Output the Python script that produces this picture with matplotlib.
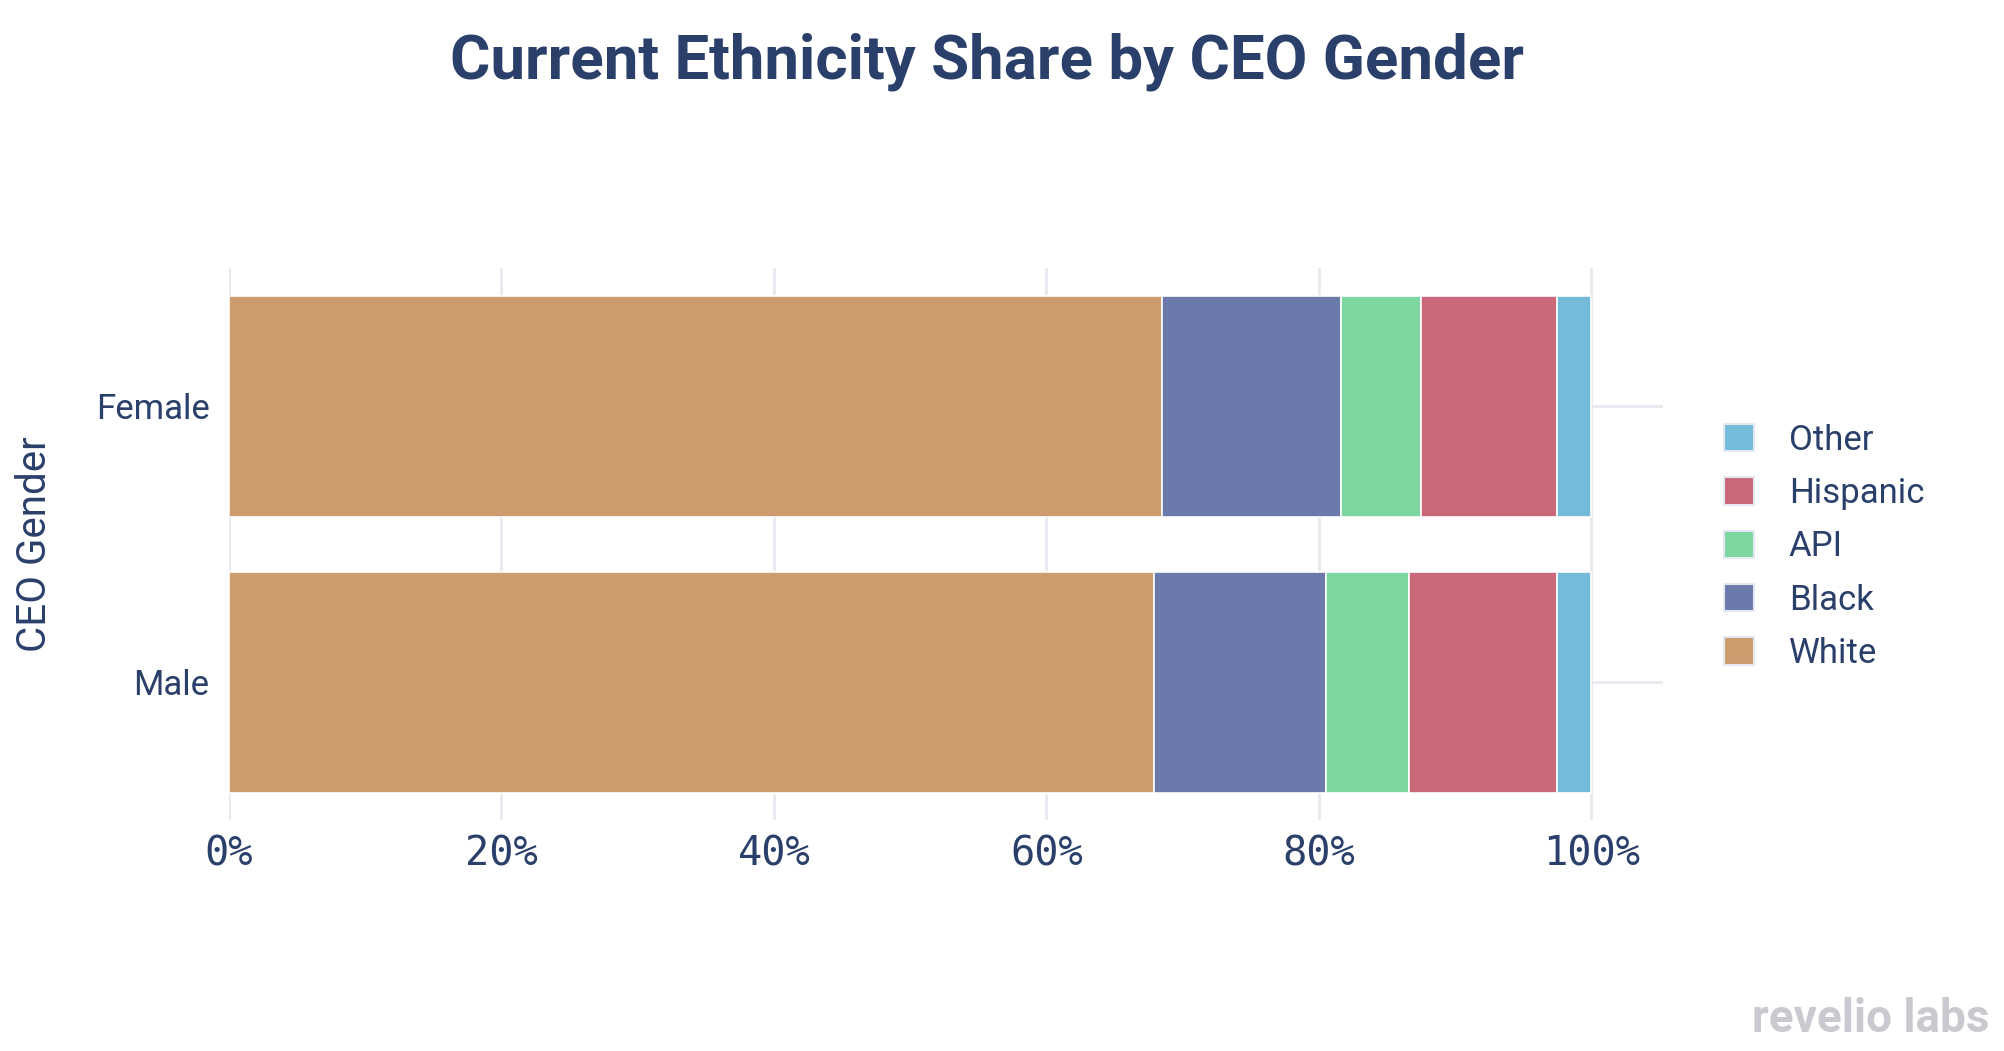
import numpy as np
import matplotlib.pyplot as plt
from matplotlib.patches import Patch

genders = ['Male', 'Female']
ethnicities = ['White', 'Black', 'API', 'Hispanic', 'Other']
white = [67.9, 68.5]
black = [12.6, 13.1]
api = [6.1, 5.9]
hispanic = [10.85, 9.95]
other = [2.55, 2.55]
colors = ['#CC9B6E', '#6C79AB', '#7ED6A1', '#C96878', '#73BBD9']
xticks = [0, 20, 40, 60, 80, 100]

navy = '#2A3F6A'
grid = '#E8E9EF'

fig = plt.figure(figsize=(20.04, 10.51), dpi=100)
ax = fig.add_axes([0.1143, 0.2195, 0.7155, 0.5255])

y = np.arange(len(genders))
left = np.zeros(len(genders))
for vals, name, c in zip([white, black, api, hispanic, other], ethnicities, colors):
    ax.barh(y, vals, left=left, height=0.8, color=c, edgecolor='white',
            linewidth=1.2, label=name, zorder=3)
    left += np.array(vals)

ax.set_xlim(0, 105.26)
ax.set_ylim(-0.5, 1.5)
ax.set_xticks(xticks)
ax.set_xticklabels([f'{t}%' for t in xticks], family='DejaVu Sans Mono',
                   fontsize=29, color=navy)
ax.set_yticks(y)
ax.set_yticklabels(genders, family='Roboto', fontsize=25, color=navy)
ax.tick_params(length=0, pad=14)
ax.tick_params(axis='x', pad=10)
ax.grid(True, color=grid, linewidth=2, zorder=0)
for s in ax.spines.values():
    s.set_visible(False)

ax.set_ylabel('CEO Gender', family='Roboto', fontsize=29, color=navy, labelpad=30)

handles = [Patch(facecolor=c, edgecolor='#E4E8F2', linewidth=1.5) for c in colors][::-1]
leg = ax.legend(handles, ethnicities[::-1], loc='center left',
                bbox_to_anchor=(1.021, 0.495), frameon=False,
                prop={'family': 'Roboto', 'size': 25},
                handlelength=0.86, handleheight=0.84, handletextpad=1.0,
                labelspacing=0.585)
for t in leg.get_texts():
    t.set_color(navy)

fig.suptitle('Current Ethnicity Share by CEO Gender', x=0.4925, y=0.969,
             family='Roboto', fontweight='bold', fontsize=44.5, color=navy)
fig.text(0.993, 0.03, 'revelio labs', ha='right', va='center',
         family='Roboto', fontweight='bold', fontsize=33, color='#C8CACF')

fig.savefig('out.png', dpi=100)
